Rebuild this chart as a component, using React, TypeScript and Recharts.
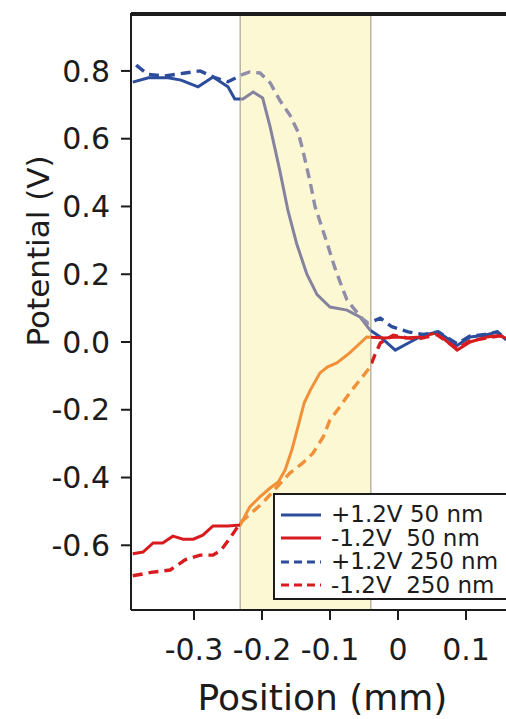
import React from "react"
import { LineChart, Line, XAxis, YAxis, ReferenceArea, ReferenceLine, Legend } from "recharts"

// position (mm) / potential (V), one pair of arrays per trace
const blue50Pos = [-0.390, -0.367, -0.338, -0.319, -0.294, -0.272, -0.250, -0.240, -0.228, -0.213, -0.199, -0.188, -0.174, -0.162, -0.149, -0.134, -0.119, -0.100, -0.075, -0.056, -0.041, -0.026, -0.004, 0.018, 0.037, 0.059, 0.087, 0.106, 0.128, 0.146, 0.159]
const blue50Pot = [0.767, 0.780, 0.780, 0.773, 0.753, 0.782, 0.753, 0.717, 0.717, 0.738, 0.720, 0.635, 0.508, 0.390, 0.290, 0.200, 0.140, 0.103, 0.094, 0.074, 0.035, 0.015, -0.024, 0.000, 0.020, 0.030, -0.010, 0.015, 0.020, 0.030, 0.006]

const red50Pos = [-0.390, -0.375, -0.360, -0.346, -0.331, -0.316, -0.301, -0.287, -0.272, -0.250, -0.232, -0.218, -0.203, -0.188, -0.176, -0.166, -0.156, -0.147, -0.138, -0.129, -0.115, -0.104, -0.090, -0.071, -0.046, -0.019, -0.001, 0.013, 0.032, 0.057, 0.087, 0.106, 0.131, 0.150, 0.159]
const red50Pot = [-0.625, -0.620, -0.593, -0.593, -0.573, -0.582, -0.582, -0.570, -0.543, -0.543, -0.540, -0.487, -0.457, -0.431, -0.413, -0.378, -0.318, -0.250, -0.180, -0.142, -0.092, -0.074, -0.062, -0.032, 0.015, 0.012, 0.015, 0.012, 0.015, 0.027, -0.024, 0.000, 0.015, 0.020, 0.010]

const blue250Pos = [-0.385, -0.368, -0.343, -0.313, -0.291, -0.269, -0.250, -0.228, -0.218, -0.203, -0.188, -0.174, -0.159, -0.147, -0.140, -0.129, -0.122, -0.104, -0.093, -0.082, -0.075, -0.063, -0.053, -0.044, -0.026, -0.009, 0.015, 0.037, 0.059, 0.087, 0.106, 0.128, 0.146, 0.159]
const blue250Pot = [0.817, 0.790, 0.785, 0.794, 0.800, 0.780, 0.768, 0.790, 0.797, 0.794, 0.765, 0.714, 0.670, 0.620, 0.567, 0.470, 0.400, 0.290, 0.220, 0.160, 0.124, 0.094, 0.070, 0.056, 0.070, 0.045, 0.030, 0.022, 0.030, -0.005, 0.018, 0.022, 0.030, 0.008]

const red250Pos = [-0.390, -0.363, -0.335, -0.313, -0.291, -0.272, -0.260, -0.246, -0.232, -0.199, -0.178, -0.159, -0.140, -0.125, -0.110, -0.100, -0.085, -0.071, -0.056, -0.041, -0.034, -0.026, -0.007, 0.013, 0.032, 0.057, 0.087, 0.106, 0.131, 0.150, 0.159]
const red250Pot = [-0.690, -0.680, -0.673, -0.643, -0.629, -0.629, -0.614, -0.576, -0.534, -0.475, -0.428, -0.387, -0.357, -0.328, -0.280, -0.230, -0.190, -0.150, -0.112, -0.074, -0.038, -0.003, 0.020, 0.012, 0.010, 0.022, -0.020, 0.003, 0.012, 0.018, 0.010]

const xTicks = [-0.3, -0.2, -0.1, 0, 0.1]
const yTicks = [-0.6, -0.4, -0.2, 0, 0.2, 0.4, 0.6, 0.8]
const xDomain = [-0.3926, 0.1588]
const yDomain = [-0.791, 0.971]
// shaded interface region
const band = [-0.232, -0.04]

const legendLabels = ["+1.2V 50 nm", "-1.2V  50 nm", "+1.2V 250 nm", "-1.2V  250 nm"]

const BLUE = "#2c4c9c"
const RED = "#d81b1e"
const GRAY = "#85839f"
const ORANGE = "#f0913a"
const INK = "#1c1c1c"
const FONT = "DejaVu Sans"

const series = [
  { id: "b50", pos: blue50Pos, pot: blue50Pot, color: BLUE, inside: GRAY, dash: undefined },
  { id: "r50", pos: red50Pos, pot: red50Pot, color: RED, inside: ORANGE, dash: undefined },
  { id: "b250", pos: blue250Pos, pot: blue250Pot, color: BLUE, inside: "#8f8da8", dash: "10 6" },
  { id: "r250", pos: red250Pos, pot: red250Pot, color: RED, inside: ORANGE, dash: "10 6" },
]

const toPoints = (xs: number[], ys: number[]) => xs.map((x, i) => ({ x, y: ys[i] }))

// color switch inside the band, done with hard gradient stops over each path's bbox
function BandGradient({ id, xs, color, inside }: { id: string; xs: number[]; color: string; inside: string }) {
  const lo = Math.min(...xs)
  const hi = Math.max(...xs)
  const f1 = ((band[0] - lo) / (hi - lo)) * 100
  const f2 = ((band[1] - lo) / (hi - lo)) * 100
  return (
    <linearGradient id={id} x1="0" y1="0" x2="1" y2="0">
      <stop offset="0%" stopColor={color} />
      <stop offset={`${f1}%`} stopColor={color} />
      <stop offset={`${f1}%`} stopColor={inside} />
      <stop offset={`${f2}%`} stopColor={inside} />
      <stop offset={`${f2}%`} stopColor={color} />
      <stop offset="100%" stopColor={color} />
    </linearGradient>
  )
}

const XLabel = ({ viewBox }: any) => (
  <text x={viewBox.x + viewBox.width / 2 + 4} y={710} textAnchor="middle" fontSize={36} fontFamily={FONT} fill={INK}>
    Position (mm)
  </text>
)

const YLabel = () => (
  <text transform="translate(38,251) rotate(-90)" textAnchor="middle" dominantBaseline="central" fontSize={31} fontFamily={FONT} fill={INK}>
    Potential (V)
  </text>
)

function LegendBox() {
  return (
    <div style={{ border: `2px solid ${INK}`, background: "#fff", width: 240, height: 107, boxSizing: "border-box", padding: "8px 0 0 5px", fontFamily: FONT, fontSize: 23, color: INK }}>
      {legendLabels.map((label, i) => (
        <div key={label} style={{ display: "flex", alignItems: "center", height: 23.5, whiteSpace: "pre" }}>
          <svg width={42} height={6}>
            <line x1={1} y1={3} x2={41} y2={3} stroke={series[i].color} strokeWidth={3} strokeDasharray={series[i].dash ? "8 5" : undefined} />
          </svg>
          <span style={{ marginLeft: 9, lineHeight: "23.5px" }}>{label}</span>
        </div>
      ))}
    </div>
  )
}

export default function App() {
  return (
    <div style={{ position: "absolute", left: 0, top: 0, width: 506, height: 719, overflow: "hidden", background: "#fff" }}>
      <LineChart width={506} height={719} margin={{ top: 12, right: 0, bottom: 0, left: 0 }}>
        <defs>
          {series.map((s) => (
            <BandGradient key={s.id} id={`grad-${s.id}`} xs={s.pos} color={s.color} inside={s.inside} />
          ))}
        </defs>
        <XAxis
          dataKey="x"
          type="number"
          domain={xDomain}
          allowDataOverflow
          ticks={xTicks}
          tickFormatter={(v: number) => (v === 0 ? "0" : v.toFixed(1))}
          tickSize={10}
          tickMargin={19}
          height={109}
          axisLine={{ stroke: INK, strokeWidth: 2 }}
          tickLine={{ stroke: INK, strokeWidth: 2 }}
          tick={{ fill: INK, fontSize: 30, fontFamily: FONT }}
          label={<XLabel />}
        />
        <XAxis
          xAxisId="top"
          orientation="top"
          dataKey="x"
          type="number"
          domain={xDomain}
          allowDataOverflow
          height={1}
          tick={false}
          tickLine={false}
          axisLine={{ stroke: INK, strokeWidth: 2 }}
        />
        <YAxis
          type="number"
          domain={yDomain}
          allowDataOverflow
          ticks={yTicks}
          tickFormatter={(v: number) => v.toFixed(1)}
          tickSize={10}
          tickMargin={11}
          width={131}
          axisLine={{ stroke: INK, strokeWidth: 2 }}
          tickLine={{ stroke: INK, strokeWidth: 2 }}
          tick={{ fill: INK, fontSize: 30, fontFamily: FONT }}
          label={<YLabel />}
        />
        <ReferenceArea x1={band[0]} x2={band[1]} fill="#fdf8d4" fillOpacity={1} stroke="#b9b6a6" strokeWidth={1.5} />
        {series.map((s) => (
          <Line
            key={s.id}
            data={toPoints(s.pos, s.pot)}
            dataKey="y"
            type="linear"
            stroke={`url(#grad-${s.id})`}
            strokeWidth={s.dash ? 3.4 : 3}
            strokeDasharray={s.dash}
            dot={false}
            isAnimationActive={false}
          />
        ))}
        {/* frame top edge (this setup is the one that actually rendered) */}
        <ReferenceLine y={0.965} stroke={INK} strokeWidth={2} ifOverflow="extendDomain" />
        <Legend layout="vertical" align="center" verticalAlign="middle" wrapperStyle={{ left: 273, top: 493, width: 240, height: 107 }} content={<LegendBox />} />
      </LineChart>
    </div>
  )
}
